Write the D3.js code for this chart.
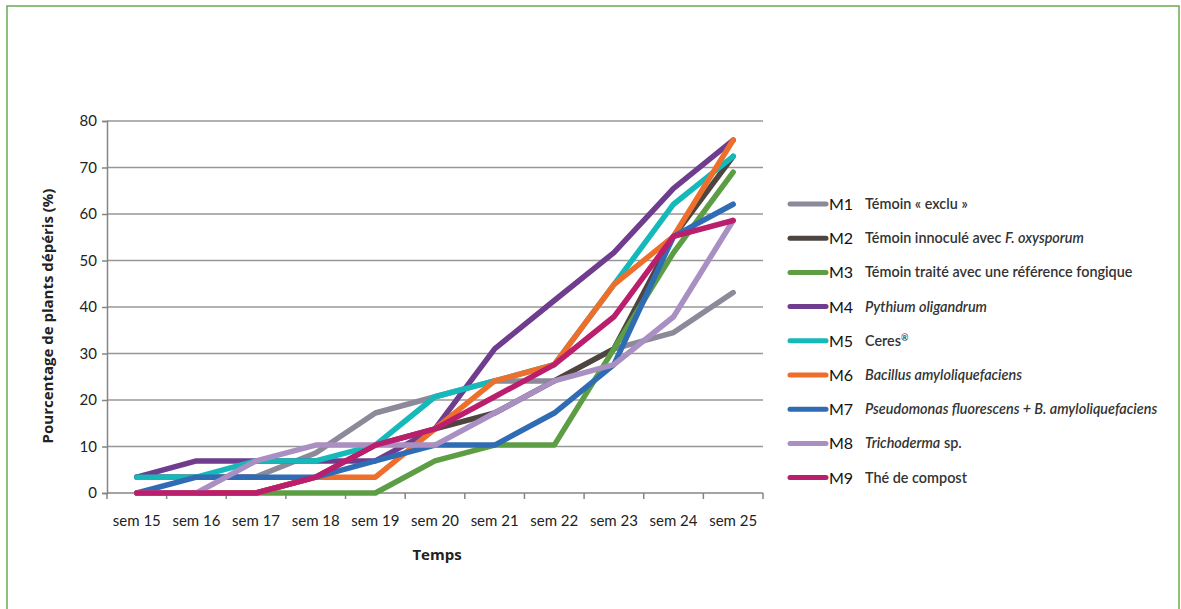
<!DOCTYPE html>
<html>
<head>
<meta charset="utf-8">
<script src="https://cdn.jsdelivr.net/npm/d3@7"></script>
<style>
  body { margin: 0; background: #fff; }
  svg { display: block; }
</style>
</head>
<body>
<div id="chart"></div>
<script>
const weeks = ["sem 15", "sem 16", "sem 17", "sem 18", "sem 19", "sem 20", "sem 21", "sem 22", "sem 23", "sem 24", "sem 25"];
const yTicks = [0, 10, 20, 30, 40, 50, 60, 70, 80];

const m1 = [3.5, 3.5, 3.5, 8.6, 17.2, 20.7, 24.1, 24.1, 31.0, 34.5, 43.1];
const m2 = [0, 0, 0, 3.4, 10.3, 13.8, 17.2, 24.1, 31.0, 55.2, 72.4];
const m3 = [0, 0, 0, 0, 0, 6.9, 10.3, 10.3, 31.0, 51.7, 69.0];
const m4 = [3.4, 6.9, 6.9, 6.9, 6.9, 13.8, 31.0, 41.4, 51.7, 65.5, 75.9];
const m5 = [3.4, 3.4, 6.9, 6.9, 10.3, 20.7, 24.1, 27.6, 44.8, 62.1, 72.4];
const m6 = [0, 0, 0, 3.4, 3.4, 13.8, 24.1, 27.6, 44.8, 55.2, 75.9];
const m7 = [0, 3.4, 3.4, 3.4, 6.9, 10.3, 10.3, 17.2, 27.6, 55.2, 62.1];
const m8 = [0, 0, 6.9, 10.3, 10.3, 10.3, 17.2, 24.1, 27.6, 37.9, 58.6];
const m9 = [0, 0, 0, 3.4, 10.3, 13.8, 20.7, 27.6, 37.9, 55.2, 58.6];

const codes = ["M1", "M2", "M3", "M4", "M5", "M6", "M7", "M8", "M9"];
// legend labels: pieces of [text, italic, superscript]
const labels = [
  [["Témoin « exclu »", false]],
  [["Témoin innoculé avec ", false], ["F. oxysporum", true]],
  [["Témoin traité avec une référence fongique", false]],
  [["Pythium oligandrum", true]],
  [["Ceres", false], ["®", false, true]],
  [["Bacillus amyloliquefaciens", true]],
  [["Pseudomonas fluorescens + B. amyloliquefaciens", true]],
  [["Trichoderma", true], [" sp.", false]],
  [["Thé de compost", false]]
];
const colors = ["#8c8999", "#4e4540", "#5d9e45", "#6f3c8e", "#15b9b9", "#ee6f2b", "#2f6cb4", "#a98fc2", "#ba1e6c"];
const series = [m1, m2, m3, m4, m5, m6, m7, m8, m9];

const width = 1181, height = 609;
const plot = {left: 107, right: 763, top: 121, bottom: 493};

const svg = d3.select("#chart")
  .append("svg")
  .attr("width", width)
  .attr("height", height);

// green frame
svg.append("rect")
  .attr("x", 7)
  .attr("y", 6)
  .attr("width", 1172)
  .attr("height", 620)
  .attr("fill", "none")
  .attr("stroke", "#6aab50")
  .attr("stroke-width", 1.5);

const x = d3.scaleBand().domain(weeks).range([plot.left, plot.right]);
const y = d3.scaleLinear().domain([0, 80]).range([plot.bottom, plot.top]);
const cx = d => x(d) + x.bandwidth() / 2;

// gridlines
svg.append("g")
  .selectAll("line")
  .data(yTicks.filter(t => t > 0))
  .join("line")
  .attr("x1", plot.left)
  .attr("x2", plot.right)
  .attr("y1", d => y(d))
  .attr("y2", d => y(d))
  .attr("stroke", "#979797")
  .attr("stroke-width", 1.5);

// y axis
const yAxis = svg.append("g")
  .attr("transform", `translate(${plot.left},0)`)
  .call(d3.axisLeft(y).tickValues(yTicks).tickSize(5).tickPadding(5));
yAxis.select(".domain").attr("stroke", "#858585").attr("stroke-width", 1.5);
yAxis.selectAll(".tick line").attr("stroke", "#858585").attr("stroke-width", 1.5);
yAxis.selectAll(".tick text")
  .style("font-family", "Lato, sans-serif")
  .style("font-size", "15px")
  .attr("fill", "#222");

// x axis (ticks between categories, like Excel)
const xg = svg.append("g");
xg.append("line")
  .attr("x1", plot.left).attr("x2", plot.right)
  .attr("y1", plot.bottom).attr("y2", plot.bottom)
  .attr("stroke", "#858585").attr("stroke-width", 1.5);
xg.selectAll(".xt")
  .data(weeks.map(w => x(w)).concat([plot.right]))
  .join("line")
  .attr("x1", d => d).attr("x2", d => d)
  .attr("y1", plot.bottom).attr("y2", plot.bottom + 6)
  .attr("stroke", "#858585").attr("stroke-width", 1.5);
xg.selectAll("text")
  .data(weeks)
  .join("text")
  .attr("x", d => cx(d))
  .attr("y", 526)
  .attr("text-anchor", "middle")
  .style("font-family", "Lato, sans-serif")
  .style("font-size", "15px")
  .attr("fill", "#222")
  .text(d => d);

// axis titles
svg.append("text")
  .attr("transform", "translate(53,316) rotate(-90)")
  .attr("text-anchor", "middle")
  .style("font-family", "'Open Sans', sans-serif")
  .style("font-size", "15px")
  .style("font-weight", "bold")
  .attr("fill", "#222")
  .text("Pourcentage de plants dépéris (%)");

svg.append("text")
  .attr("x", 437)
  .attr("y", 560)
  .attr("text-anchor", "middle")
  .style("font-family", "'Open Sans', sans-serif")
  .style("font-size", "15px")
  .style("font-weight", "bold")
  .attr("fill", "#222")
  .text("Temps");

// lines
const line = d3.line()
  .x((d, i) => cx(weeks[i]))
  .y(d => y(d));

svg.append("g")
  .selectAll("path")
  .data(series)
  .join("path")
  .attr("d", line)
  .attr("fill", "none")
  .attr("stroke", (d, i) => colors[i])
  .attr("stroke-width", 5.5)
  .attr("stroke-linejoin", "round")
  .attr("stroke-linecap", "round");

// legend
const legend = svg.append("g");
const rowY = i => 204 + i * 34.2;
codes.forEach((c, i) => {
  legend.append("line")
    .attr("x1", 790).attr("x2", 826)
    .attr("y1", rowY(i)).attr("y2", rowY(i))
    .attr("stroke", colors[i])
    .attr("stroke-width", 5)
    .attr("stroke-linecap", "round");
  legend.append("text")
    .attr("x", 829)
    .attr("y", rowY(i) + 6)
    .style("font-family", "Lato, sans-serif")
    .style("font-size", "16px")
    .attr("fill", "#111")
    .text(c);
  const t = legend.append("text")
    .attr("x", 865)
    .attr("y", rowY(i) + 5)
    .style("font-family", "Lato, sans-serif")
    .style("font-size", "14.4px")
    .style("font-weight", "600")
    .attr("fill", "#333");
  labels[i].forEach(p => {
    const s = t.append("tspan")
      .style("font-style", p[1] ? "italic" : "normal")
      .text(p[0]);
    if (p[2]) s.attr("dy", -5).style("font-size", "9px");
  });
});
</script>
</body>
</html>
